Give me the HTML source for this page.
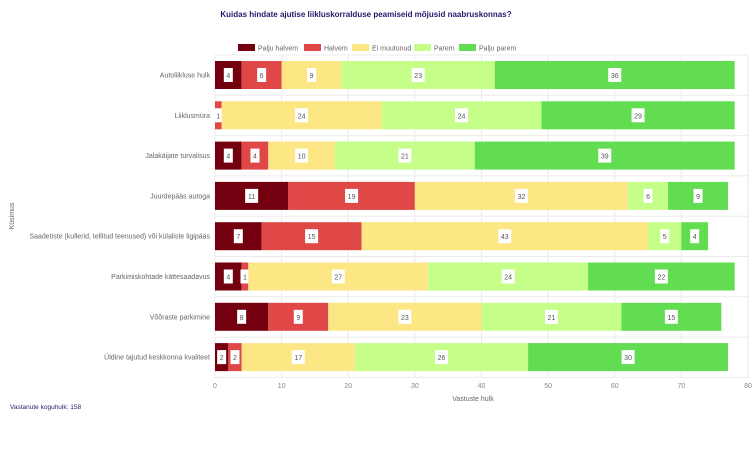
<!DOCTYPE html>
<html><head><meta charset="utf-8"><style>
body{margin:0;background:#fff;}
text{font-family:"Liberation Sans",sans-serif;}
</style></head><body>
<svg width="756" height="450" xmlns="http://www.w3.org/2000/svg" id="s">
<text x="366" y="17" text-anchor="middle" font-size="8" font-weight="bold" fill="#1f1a6b">Kuidas hindate ajutise liikluskorralduse peamiseid mõjusid naabruskonnas?</text>
<g font-size="7" fill="#666">
<rect x="238" y="44" width="17" height="7" fill="#74000f"/><text x="258" y="50.5">Palju halvem</text>
<rect x="304" y="44" width="17" height="7" fill="#e04848"/><text x="324" y="50.5">Halvem</text>
<rect x="352" y="44" width="17" height="7" fill="#fde785"/><text x="372" y="50.5">Ei muutunud</text>
<rect x="414" y="44" width="17" height="7" fill="#c6fe8a"/><text x="434" y="50.5">Parem</text>
<rect x="459" y="44" width="17" height="7" fill="#62dc50"/><text x="479" y="50.5">Palju parem</text>
</g>
<g id="grid" stroke="#ebebeb" stroke-width="1"></g>
<g id="bars"></g>
<text x="473" y="401" text-anchor="middle" font-size="7" fill="#666">Vastuste hulk</text>
<text x="14" y="216" text-anchor="middle" font-size="7" fill="#666" transform="rotate(-90 14 216)">Küsimus</text>
<text x="10" y="409" font-size="6.5" fill="#1f1a6b">Vastanute koguhulk: 158</text>
</svg>
<script>
var data=[["Autoliikluse hulk",[4,6,9,23,36]],["Liiklusmüra",[0,1,24,24,29]],["Jalakäijate turvalisus",[4,4,10,21,39]],["Juurdepääs autoga",[11,19,32,6,9]],["Saadetiste (kullerid, tellitud teenused) või külaliste ligipääs",[7,15,43,5,4]],["Parkimiskohtade kättesaadavus",[4,1,27,24,22]],["Võõraste parkimine",[8,9,23,21,15]],["Üldine tajutud keskkonna kvaliteet",[2,2,17,26,30]]];
var cols=["#74000f","#e04848","#fde785","#c6fe8a","#62dc50"];
var x0=215,k=6.6625,ns="http://www.w3.org/2000/svg";
function el(t,a,p,txt){var e=document.createElementNS(ns,t);for(var q in a)e.setAttribute(q,a[q]);if(txt!==undefined)e.textContent=txt;p.appendChild(e);return e;}
var g=document.getElementById("grid"),b=document.getElementById("bars"),s=document.getElementById("s");
for(var i=0;i<=8;i++){var x=x0+i*10*k;el("line",{x1:x,y1:55,x2:x,y2:378},g);el("text",{x:x,y:388,"text-anchor":"middle","font-size":"7",fill:"#888"},s,String(i*10));}
for(var r=0;r<=8;r++){var y=55+r*40.3;el("line",{x1:x0,y1:y,x2:749,y2:y},g);}
data.forEach(function(d,r){var y=61+r*40.3,cx=x0;
el("text",{x:210,y:y+16.5,"text-anchor":"end","font-size":"7",fill:"#666"},s,d[0]);
d[1].forEach(function(v,c){if(!v)return;var w=v*k;el("rect",{x:cx,y:y,width:w,height:28,fill:cols[c]},b);
var t=String(v),bw=t.length*4+5,mx=cx+w/2;el("rect",{x:mx-bw/2,y:y+7,width:bw,height:14,fill:"#fff"},b);
el("text",{x:mx,y:y+17,"text-anchor":"middle","font-size":"7",fill:"#555"},b,t);cx+=w;});});
</script>
</body></html>
